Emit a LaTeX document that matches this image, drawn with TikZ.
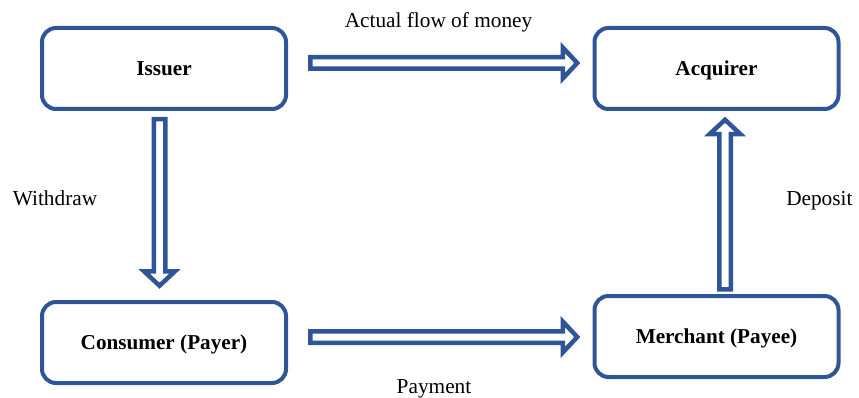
\documentclass[tikz,border=0pt]{standalone}
\usepackage{fontspec}
\setmainfont{Liberation Serif}
\usetikzlibrary{calc}
\definecolor{boxblue}{RGB}{47,85,151}
\newcommand\hollowarrow[3]{%
  \begin{scope}[shift={(#1)}, rotate=#2]
    \draw[harrow] (0,-5.75) -- (#3-14.5,-5.75) -- (#3-14.5,-15.5) -- (#3,0)
      -- (#3-14.5,15.5) -- (#3-14.5,5.75) -- (0,5.75) -- cycle;
  \end{scope}}
\begin{document}
\begin{tikzpicture}[x=1pt,y=1pt,
  box/.style={draw=boxblue, line width=4pt, rounded corners=14pt,
    minimum width=244pt, minimum height=81pt, fill=white,
    text height=14pt, text depth=0pt,
    font=\fontsize{21.2}{25}\selectfont\bfseries},
  lbl/.style={font=\fontsize{21.3}{25}\selectfont, inner sep=0pt},
  harrow/.style={draw=boxblue, line width=4.5pt, fill=white, line join=miter}]
\useasboundingbox (0,0) rectangle (859,-398);
\node[box] (issuer)   at (164,-68.5)   {Issuer};
\node[box] (acquirer) at (716.5,-68.5) {Acquirer};
\node[box] (consumer) at (164,-342.5)  {Consumer (Payer)};
\node[box] (merchant) at (716.5,-336.5) {Merchant (Payee)};

\coordinate (flowStart) at ($(issuer.east)+(22.25,5.5)$);
\coordinate (payStart)  at ($(consumer.east)+(22.25,5.5)$);
\coordinate (wdStart)   at ($(issuer.south)+(-4.5,-8.25)$);
\coordinate (depStart)  at ($(merchant.north)+(8.5,4.75)$);

\hollowarrow{flowStart}{0}{267}
\hollowarrow{payStart}{0}{267}
\hollowarrow{wdStart}{-90}{166.5}
\hollowarrow{depStart}{90}{169.5}

\node[lbl, anchor=base] (flowlbl) at (438.5,-28) {Actual flow of money};
\node[lbl, anchor=base west] (wdlbl) at (12.7,-206) {Withdraw};
\node[lbl, anchor=base east] (deplbl) at (852.7,-205.7) {Deposit};
\node[lbl, anchor=base] (paylbl) at (434,-393) {Payment};
\end{tikzpicture}
\end{document}
